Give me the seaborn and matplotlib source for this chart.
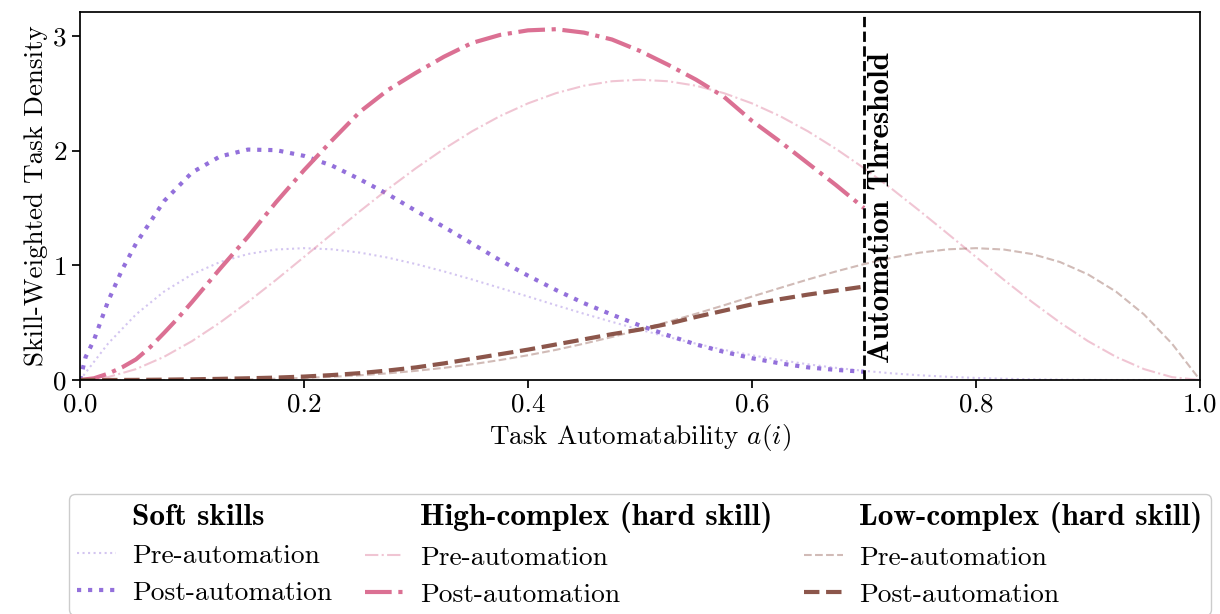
import matplotlib
matplotlib.use("Agg")
import matplotlib.pyplot as plt
from matplotlib.lines import Line2D
import seaborn as sns
import pandas as pd

# ---------------- data ----------------
x_full = [0.0, 0.025, 0.05, 0.075, 0.1, 0.125, 0.15, 0.175, 0.2, 0.225, 0.25,
          0.275, 0.3, 0.325, 0.35, 0.375, 0.4, 0.425, 0.45, 0.475, 0.5,
          0.525, 0.55, 0.575, 0.6, 0.625, 0.65, 0.675, 0.7, 0.725, 0.75,
          0.775, 0.8, 0.825, 0.85, 0.875, 0.9, 0.925, 0.95, 0.975, 1.0]
x_post = [0.0, 0.025, 0.05, 0.075, 0.1, 0.125, 0.15, 0.175, 0.2, 0.225, 0.25,
          0.275, 0.3, 0.325, 0.35, 0.375, 0.4, 0.425, 0.45, 0.475, 0.5,
          0.525, 0.55, 0.575, 0.6, 0.625, 0.65, 0.675, 0.7]
x_high_post = [0.0, 0.0125, 0.025, 0.0375, 0.05, 0.0625, 0.075, 0.0875, 0.1,
               0.125, 0.15, 0.175, 0.2, 0.225, 0.25, 0.275, 0.3, 0.325, 0.35,
               0.375, 0.4, 0.425, 0.45, 0.475, 0.5, 0.525, 0.55, 0.575, 0.6,
               0.625, 0.65, 0.675, 0.7]
x_soft_post = [0.0, 0.005, 0.0125, 0.025, 0.0375, 0.05, 0.075, 0.1, 0.125, 0.15,
               0.175, 0.2, 0.225, 0.25, 0.275, 0.3, 0.325, 0.35, 0.375, 0.4,
               0.425, 0.45, 0.475, 0.5, 0.525, 0.55, 0.575, 0.6, 0.625, 0.65,
               0.675, 0.7]

soft_pre = [0.0, 0.317, 0.572, 0.771, 0.921, 1.029, 1.099, 1.138, 1.150, 1.140,
            1.111, 1.067, 1.011, 0.947, 0.877, 0.803, 0.728, 0.652, 0.578,
            0.507, 0.439, 0.375, 0.317, 0.263, 0.216, 0.174, 0.137, 0.106,
            0.080, 0.058, 0.041, 0.028, 0.018, 0.011, 0.006, 0.003, 0.001,
            0.0, 0.0, 0.0, 0.0]
soft_post = [0.0, 0.20, 0.35, 0.685, 0.96, 1.19, 1.56, 1.81, 1.95, 2.01, 2.005,
             1.955, 1.87, 1.75, 1.62, 1.475, 1.335, 1.19, 1.045, 0.91, 0.785,
             0.67, 0.57, 0.475, 0.39, 0.31, 0.245, 0.19, 0.145, 0.11, 0.088,
             0.072]
high_pre = [0.0, 0.025, 0.095, 0.202, 0.339, 0.501, 0.681, 0.873, 1.073, 1.274,
            1.473, 1.666, 1.848, 2.016, 2.169, 2.302, 2.413, 2.502, 2.567,
            2.606, 2.619, 2.606, 2.567, 2.502, 2.413, 2.302, 2.169, 2.016,
            1.848, 1.666, 1.473, 1.274, 1.073, 0.873, 0.681, 0.501, 0.339,
            0.202, 0.095, 0.025, 0.0]
high_post = [0.0, 0.015, 0.055, 0.11, 0.18, 0.285, 0.41, 0.54, 0.68, 0.97, 1.25,
             1.55, 1.83, 2.09, 2.34, 2.53, 2.68, 2.82, 2.94, 3.01, 3.05, 3.06,
             3.03, 2.97, 2.87, 2.75, 2.62, 2.47, 2.26, 2.08, 1.89, 1.70, 1.50]
low_pre = [0.0, 0.0, 0.0, 0.0, 0.001, 0.003, 0.006, 0.011, 0.018, 0.028, 0.041,
           0.058, 0.080, 0.106, 0.137, 0.174, 0.216, 0.263, 0.317, 0.375,
           0.439, 0.507, 0.578, 0.652, 0.728, 0.803, 0.877, 0.947, 1.011,
           1.067, 1.111, 1.140, 1.150, 1.138, 1.099, 1.029, 0.921, 0.771,
           0.572, 0.317, 0.0]
low_post = [0.0, 0.0, 0.001, 0.003, 0.006, 0.010, 0.015, 0.021, 0.030, 0.043,
            0.060, 0.083, 0.110, 0.145, 0.185, 0.225, 0.265, 0.310, 0.355,
            0.400, 0.440, 0.490, 0.550, 0.605, 0.660, 0.705, 0.745, 0.780,
            0.815]

threshold = 0.7
group_titles = ["Soft skills", "High-complex (hard skill)", "Low-complex (hard skill)"]
phase_labels = ["Pre-automation", "Post-automation"]
x_ticks = [0.0, 0.2, 0.4, 0.6, 0.8, 1.0]
y_ticks = [0, 1, 2, 3]

# ---------------- style ----------------
sns.set_theme(style="ticks")
plt.rcParams["font.family"] = ["cmr10", "DejaVu Serif"]
plt.rcParams["mathtext.fontset"] = "cm"
plt.rcParams["axes.formatter.use_mathtext"] = True
plt.rcParams["axes.unicode_minus"] = False
for key in ["text.color", "axes.labelcolor", "xtick.color", "ytick.color",
            "axes.edgecolor"]:
    plt.rcParams[key] = "black"
FS = 19.5
LEG_FS = 19.8
HEAD_FS = 22.5
TH_FS = 22.4
BOLD = ["cmb10", "DejaVu Serif"]

SOFT = "#9370DB"
HIGH = "#DB7093"
LOW = "#8C564B"
PRE_ALPHA = 0.4

fig = plt.figure(figsize=(12.2, 6.14), dpi=100)
ax = fig.add_axes([80 / 1220, 1 - 380 / 614, 1120 / 1220, 368 / 614])

series = [
    (x_full, soft_pre, SOFT, ":", 1.5, PRE_ALPHA),
    (x_soft_post, soft_post, SOFT, ":", 3.0, 1.0),
    (x_full, high_pre, HIGH, "-.", 1.5, PRE_ALPHA),
    (x_high_post, high_post, HIGH, "-.", 3.0, 1.0),
    (x_full, low_pre, LOW, "--", 1.5, PRE_ALPHA),
    (x_post, low_post, LOW, "--", 3.0, 1.0),
]
for xs, ys, col, ls, lw, al in series:
    df = pd.DataFrame({"x": xs, "y": ys})
    sns.lineplot(data=df, x="x", y="y", ax=ax, color=col, linestyle=ls,
                 linewidth=lw, alpha=al, sort=False, errorbar=None)

ax.axvline(threshold, color="black", linestyle="--", linewidth=2)
ax.text(threshold + 0.004, 0.15, "Automation Threshold", rotation=90,
        ha="left", va="bottom", fontsize=TH_FS, family=BOLD, color="black")

ax.set_xlim(0, 1)
ax.set_ylim(0, 3.21)
ax.set_xticks(x_ticks)
ax.set_xticklabels([f"{t:.1f}" for t in x_ticks])
ax.set_yticks(y_ticks)
ax.set_yticklabels([str(t) for t in y_ticks])
ax.tick_params(labelsize=FS, length=6, width=1.25, direction="out",
               colors="black")
for sp in ax.spines.values():
    sp.set_linewidth(1.25)
    sp.set_color("black")
ax.set_xlabel("Task Automatability $a(i)$", fontsize=FS, color="black")
ax.set_ylabel("Skill-Weighted Task Density", fontsize=FS, color="black")

# ---------------- legend ----------------
def blank():
    return Line2D([], [], color="none", linestyle="none")

handles, labels = [], []
styles = [(SOFT, ":"), (HIGH, "-."), (LOW, "--")]
for title, (col, ls) in zip(group_titles, styles):
    handles.append(blank()); labels.append(title)
    handles.append(Line2D([], [], color=col, linestyle=ls, linewidth=1.5, alpha=PRE_ALPHA))
    labels.append(phase_labels[0])
    handles.append(Line2D([], [], color=col, linestyle=ls, linewidth=3.0))
    labels.append(phase_labels[1])

leg = ax.legend(handles, labels, ncol=3, loc="upper center",
                bbox_to_anchor=(0.5, -0.31), borderaxespad=0,
                fontsize=LEG_FS, frameon=True,
                fancybox=True, edgecolor="#cccccc", framealpha=1,
                handlelength=1.4, handletextpad=0.6, columnspacing=1.17,
                labelspacing=0.45, borderpad=0.3)
for i, t in enumerate(leg.get_texts()):
    t.set_color("black")
    if i % 3 == 0:
        t.set_fontfamily(BOLD)
        t.set_fontsize(HEAD_FS)

fig.savefig("out.png", dpi=100)
